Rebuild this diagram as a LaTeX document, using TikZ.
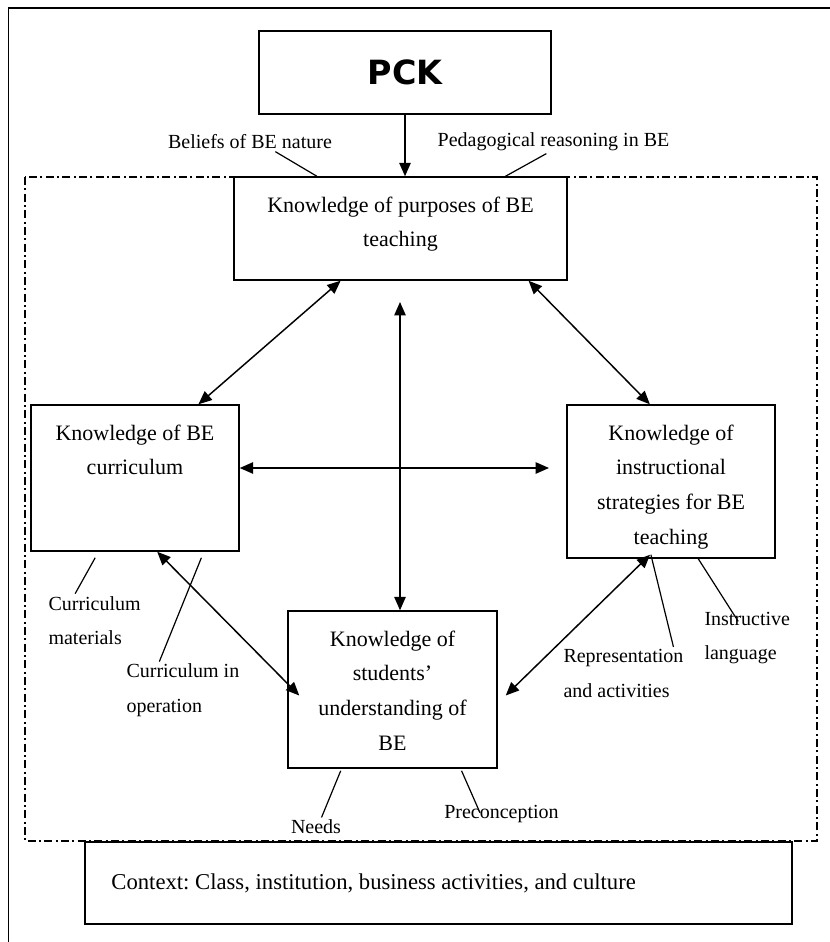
\documentclass[tikz,border=0pt]{standalone}
\usepackage{fontspec}
\setmainfont{Liberation Serif}
\newfontfamily\pckfont{DejaVu Sans}
\usetikzlibrary{arrows.meta,positioning,calc}

\tikzset{every picture/.style={line width=0.75pt}}
\tikzset{
  box/.style={draw, fill=white, line width=1.1pt, inner sep=0pt},
  boxtext/.style={align=center, inner sep=0pt, font=\fontsize{16.5}{26}\selectfont\frenchspacing},
  note/.style={align=left, inner sep=1.5pt, font=\fontsize{15}{26}\selectfont},
  arrow/.style={line width=1.1pt, -{Triangle[length=10pt,width=8.5pt]}},
  link/.style={line width=1.1pt, {Triangle[length=10pt,width=8.5pt]}-{Triangle[length=10pt,width=8.5pt]}},
  tick/.style={line width=0.9pt},
  dashdot/.style={line width=0.9pt, dash pattern=on 6pt off 2.5pt on 1.5pt off 2.5pt}
}

\begin{document}
\begin{tikzpicture}[x=0.75pt,y=0.75pt,yscale=-1,xscale=1]
\useasboundingbox (0,0) rectangle (830,942);

%Outer frame (top and left sides only)
\draw [line width=1.1pt] (8.5,942) -- (8.5,8) -- (830,8) ;
%Dash-dot frame
\draw [dashdot] (25,177) rectangle (817,841) ;

%Shape: Boxes
\node [box, minimum width=219pt, minimum height=62.25pt] (pck) at (405,72.5) {\pckfont\bfseries\fontsize{25}{25}\selectfont PCK};
\node [box, minimum width=249.75pt, minimum height=77.25pt] (purposes) at (400.5,228.5) {};
\node [box, minimum width=156pt, minimum height=109.5pt] (curric) at (135,478) {};
\node [box, minimum width=156pt, minimum height=114.75pt] (instr) at (671,481.5) {};
\node [box, minimum width=156.75pt, minimum height=117.75pt] (students) at (392.5,689.5) {};
\node [box, minimum width=530.25pt, minimum height=61.5pt] (context) at (438.5,883) {};

% Text Node: box contents
\node [boxtext, below=15pt of purposes.north] (purposesText) {Knowledge of purposes of BE\\teaching};
\node [boxtext, below=15pt of curric.north] (curricText) {Knowledge of BE\\curriculum};
\node [boxtext, below=15pt of instr.north] (instrText) {Knowledge of\\instructional\\strategies for BE\\teaching};
\node [boxtext, below=15pt of students.north] (studentsText) {Knowledge of\\students'\\understanding of\\BE};
\node [boxtext, font=\fontsize{17}{26}\selectfont\frenchspacing, right=20pt of context.west] (contextText) {Context: Class, institution, business activities, and culture};

% Text Node: labels
\node [note] (beliefs) at (250,142) {Beliefs of BE nature};
\node [note] (pedag) at (553.5,142) {Pedagogical reasoning in BE};
\node [note, anchor=west] (currMat) at (46,620.5) {Curriculum\\materials};
\node [note, anchor=west] (currOp) at (124,690.5) {Curriculum in\\operation};
\node [note, anchor=west] (repAct) at (561,673.5) {Representation\\and activities};
\node [note, anchor=west] (instrLang) at (702,638) {Instructive\\language};
\node [note] (needs) at (316,827) {Needs};
\node [note] (precon) at (501.5,814) {Preconception};

%Straight Lines: arrows
\draw [arrow] (pck.south) -- (pck.south |- purposes.north) ;
\draw [link] ($(purposes.south west)!0.321!(purposes.south east)$) -- ($(curric.north west)!0.803!(curric.north east)$) ;
\draw [link] ($(purposes.south west)!0.883!(purposes.south east)$) -- ($(instr.north west)!0.399!(instr.north east)$) ;
\coordinate (vTop) at (400,302) ;
\draw [link] (vTop) -- (vTop |- students.north) ;
\coordinate (hEnd) at (549,468) ;
\draw [link] (curric.east |- hEnd) -- (hEnd) ;
\draw [link] ($(curric.south west)!0.606!(curric.south east)$) -- ($(students.west)+(12,6)$) ;
\draw [link] ($(instr.south west)!0.4!(instr.south east)+(0,-4)$) -- ($(students.east)+(8,6)$) ;

%Straight Lines: label ticks
\draw [tick] ($(beliefs.south west)!0.65!(beliefs.south east)$) -- ($(purposes.north west)!0.25!(purposes.north east)$) ;
\draw [tick] ($(pedag.south west)!0.47!(pedag.south east)$) -- ($(purposes.north west)!0.814!(purposes.north east)$) ;
\draw [tick] ($(curric.south west)!0.31!(curric.south east)+(0,6)$) -- ($(currMat.north west)!0.3!(currMat.north east)$) ;
\draw [tick] ($(curric.south west)!0.817!(curric.south east)+(0,6)$) -- ($(currOp.north west)!0.3!(currOp.north east)$) ;
\draw [tick] ($(instr.south west)!0.404!(instr.south east)+(0,-4)$) -- ($(repAct.north west)!0.9!(repAct.north east)$) ;
\draw [tick] ($(instr.south west)!0.63!(instr.south east)$) -- ($(instrLang.north west)!0.4!(instrLang.north east)+(0,12)$) ;
\draw [tick] ($(students.south west)!0.254!(students.south east)+(0,2)$) -- ($(needs.north west)!0.6!(needs.north east)$) ;
\draw [tick] ($(students.south west)!0.828!(students.south east)+(0,2)$) -- ($(precon.north west)!0.32!(precon.north east)+(0,10)$) ;

\end{tikzpicture}
\end{document}
